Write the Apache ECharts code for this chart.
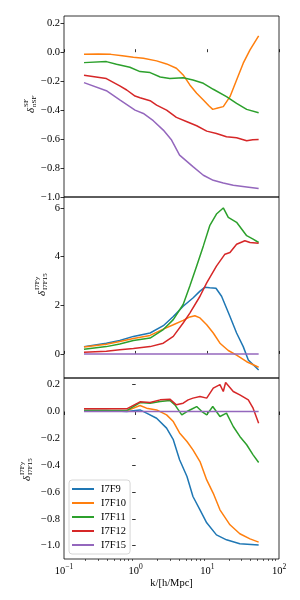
<!DOCTYPE html>
<html><head><meta charset="utf-8">
<script src="https://cdn.jsdelivr.net/npm/echarts@6/dist/echarts.min.js"></script>
<style>html,body{margin:0;padding:0;background:#fff}#c{width:300px;height:600px}</style>
</head><body><div id="c"></div>
<script>
// ---- data (k in h/Mpc, value) ----
const names = ['I7F9','I7F10','I7F11','I7F12','I7F15'];
const colors = ['#1f77b4','#ff7f0e','#2ca02c','#d62728','#9467bd'];

// panel 1: delta^SF_nSF
const sf_I7F10 = [[0.19,-0.014],[0.3,-0.012],[0.45,-0.015],[0.65,-0.025],[0.93,-0.035],[1.28,-0.042],[1.96,-0.06],[2.7,-0.081],[3.7,-0.111],[4.6,-0.157],[5.7,-0.226],[7.1,-0.284],[8.8,-0.33],[10.5,-0.37],[11.9,-0.395],[14,-0.385],[16.7,-0.376],[20.7,-0.307],[25.6,-0.192],[31.7,-0.076],[39.4,0.016],[52,0.113]];
const sf_I7F11 = [[0.19,-0.072],[0.39,-0.065],[0.54,-0.083],[0.83,-0.104],[1.15,-0.134],[1.59,-0.141],[2.2,-0.171],[3.0,-0.182],[4.6,-0.176],[6.3,-0.192],[8.8,-0.215],[12.1,-0.256],[18.5,-0.307],[25.6,-0.353],[35.4,-0.395],[52,-0.418]];
const sf_I7F12 = [[0.19,-0.159],[0.39,-0.182],[0.6,-0.233],[0.75,-0.261],[0.98,-0.303],[1.15,-0.314],[1.59,-0.335],[1.96,-0.365],[2.7,-0.40],[3.7,-0.45],[5.2,-0.48],[7.1,-0.508],[9.8,-0.545],[13.4,-0.561],[18.5,-0.584],[25.6,-0.591],[35.4,-0.612],[43,-0.605],[52,-0.603]];
const sf_I7F15 = [[0.19,-0.21],[0.39,-0.266],[0.6,-0.33],[0.98,-0.40],[1.28,-0.423],[1.76,-0.473],[2.43,-0.538],[3.17,-0.607],[4.1,-0.711],[6.3,-0.79],[8.8,-0.85],[12.1,-0.885],[16.7,-0.903],[23,-0.919],[35.4,-0.931],[52,-0.942]];

// panel 2: delta^I7Fy_I7F15 (power ratio)
const rel_I7F9  = [[0.19,0.30],[0.39,0.44],[0.6,0.55],[0.93,0.72],[1.59,0.86],[2.43,1.16],[3.35,1.54],[4.6,1.96],[6.3,2.30],[7.9,2.58],[9.2,2.74],[10.8,2.72],[13.2,2.70],[15.8,2.37],[20.7,1.54],[25.6,0.86],[31.7,0.30],[37.3,-0.25],[52,-0.66]];
const rel_I7F10 = [[0.19,0.28],[0.39,0.40],[0.6,0.51],[0.93,0.63],[1.59,0.76],[2.43,1.02],[3.35,1.20],[4.6,1.38],[5.7,1.52],[6.7,1.57],[7.9,1.48],[9.8,1.20],[12.1,0.86],[15,0.44],[19.6,0.14],[25.6,-0.05],[35.4,-0.32],[52,-0.55]];
const rel_I7F11 = [[0.19,0.19],[0.39,0.30],[0.6,0.41],[0.93,0.55],[1.59,0.65],[2.43,1.0],[3.35,1.41],[4.6,2.03],[5.7,2.79],[7.1,3.61],[8.8,4.44],[10.8,5.27],[13.4,5.75],[16.7,6.0],[19.6,5.61],[25.6,5.41],[35.4,4.86],[43.5,4.72],[52,4.58]];
const rel_I7F12 = [[0.19,0.07],[0.39,0.11],[0.6,0.17],[0.93,0.22],[1.59,0.30],[2.43,0.44],[3.35,0.72],[4.6,1.27],[5.7,1.68],[7.9,2.37],[9.8,2.92],[13.4,3.61],[17.6,4.10],[20.7,4.17],[25.6,4.51],[33.4,4.65],[39.4,4.58],[52,4.55]];
const rel_I7F15 = [[0.19,0],[52,0]];

// panel 3: delta^I7Fy_I7F15
const dif_I7F9  = [[0.19,0.007],[0.39,0.007],[0.75,0.0],[1.15,0.012],[1.42,-0.012],[1.96,-0.05],[2.7,-0.124],[3.35,-0.21],[4.1,-0.36],[5.2,-0.485],[6.3,-0.634],[7.9,-0.733],[9.8,-0.83],[13.4,-0.92],[18.5,-0.957],[28.4,-0.986],[52,-0.996]];
const dif_I7F10 = [[0.19,0.007],[0.75,0.005],[1.15,0.045],[1.42,0.025],[1.96,0.012],[2.7,-0.025],[3.35,-0.075],[4.1,-0.16],[5.2,-0.224],[6.3,-0.286],[7.9,-0.373],[9.8,-0.51],[12.1,-0.61],[15,-0.733],[20.7,-0.845],[28.4,-0.912],[39.4,-0.95],[52,-0.974]];
const dif_I7F11 = [[0.19,0.007],[0.75,0.007],[1.15,0.067],[1.59,0.062],[2.2,0.075],[3.0,0.082],[3.53,0.05],[4.4,-0.025],[5.2,0.0],[6.0,0.017],[7.1,0.037],[8.4,0.0],[9.8,-0.025],[11.9,0.037],[15,-0.037],[18.5,-0.012],[23,-0.112],[28.4,-0.186],[35.4,-0.248],[43.5,-0.323],[52,-0.38]];
const dif_I7F12 = [[0.19,0.02],[0.75,0.02],[1.15,0.072],[1.59,0.067],[2.2,0.087],[3.0,0.092],[3.7,0.05],[4.6,0.062],[5.4,0.087],[6.3,0.1],[7.9,0.112],[9.8,0.1],[12.1,0.174],[15,0.2],[16.7,0.149],[18,0.216],[23,0.149],[28.4,0.124],[37.3,0.087],[43.5,0.025],[52,-0.087]];
const dif_I7F15 = [[0.19,0],[52,0]];

const yTicks1 = [-1.0,-0.8,-0.6,-0.4,-0.2,0.0,0.2];
const yTicks2 = [0,2,4,6];
const yTicks3 = [-1.0,-0.8,-0.6,-0.4,-0.2,0.0,0.2];

// ---- chart ----
const FONT = 'Liberation Serif';
const MINUS = '\u2212';
const fmt1 = v => { if (Math.abs(v) < 1e-9) v = 0; const s = v.toFixed(1); return s.replace('-', MINUS); };
const fmt0 = v => String(Math.round(v)).replace('-', MINUS);

const minorX = [];
[0.1,1,10].forEach(d => { for (let m = 2; m <= 9; m++) minorX.push(Math.log10(m*d)); });

const grids = [0,1,2].map(i => ({left:64, right:21, top:[16,197,378][i], height:181,
  show:true, borderColor:'#000', borderWidth:0.8, backgroundColor:'transparent'}));

const xAxes = [0,1,2].map(i => ({
  type:'log', logBase:10, min:0.1, max:100, gridIndex:i,
  axisLine:{show:false}, splitLine:{show:false},
  axisTick:{show:true, inside: i<2, length: i<2 ? 3 : 3.5, lineStyle:{color:'#000', width:0.8}},
  axisLabel: i<2 ? {show:false} : {
    show:true, margin:4, fontFamily:FONT, color:'#000', showMinLabel:true, showMaxLabel:true,
    formatter: v => { const e = Math.round(Math.log10(v)); return '{b|10}{s|' + String(e).replace('-', MINUS) + '}'; },
    rich:{ b:{fontFamily:FONT, fontSize:10.5, color:'#000', lineHeight:14, verticalAlign:'bottom'},
           s:{fontFamily:FONT, fontSize:7.5, color:'#000', lineHeight:14, verticalAlign:'top'} }
  },
  name: i===2 ? 'k/[h/Mpc]' : '', nameLocation:'middle', nameGap:14,
  nameTextStyle:{fontFamily:FONT, fontSize:10.5, color:'#000'}
}));
// minor ticks helper (log10 space) on bottom panel
xAxes.push({type:'value', min:-1, max:2, gridIndex:2, position:'bottom',
  axisLine:{show:false}, splitLine:{show:false}, axisLabel:{show:false},
  axisTick:{show:true, length:2, customValues:minorX, lineStyle:{color:'#000', width:0.6}}});

function yAxis(i, min, max, ticks, f) {
  return {type:'value', gridIndex:i, min:min, max:max,
    axisLine:{show:false}, splitLine:{show:false},
    axisTick:{show:true, length:3.5, customValues:ticks, lineStyle:{color:'#000', width:0.8}},
    axisLabel:{show:true, customValues:ticks, formatter:f, fontFamily:FONT, fontSize:10.5, color:'#000', margin:4,
      showMinLabel:true, showMaxLabel:true, hideOverlap:false}};
}
const yAxes = [yAxis(0,-1.0,0.25,yTicks1,fmt1), yAxis(1,-0.99,6.45,yTicks2,fmt0), yAxis(2,-1.1,0.25,yTicks3,fmt1)];

function line(name, data, panel) {
  const ci = names.indexOf(name);
  return {type:'line', name:name, data:data, xAxisIndex:panel, yAxisIndex:panel,
    symbol:'none', smooth:false, color:colors[ci], lineStyle:{width:1.5, color:colors[ci]}, z: 2+ci, silent:true, animation:false};
}
const series = [
  line('I7F10', sf_I7F10, 0), line('I7F11', sf_I7F11, 0), line('I7F12', sf_I7F12, 0), line('I7F15', sf_I7F15, 0),
  line('I7F9', rel_I7F9, 1), line('I7F10', rel_I7F10, 1), line('I7F11', rel_I7F11, 1), line('I7F12', rel_I7F12, 1), line('I7F15', rel_I7F15, 1),
  line('I7F9', dif_I7F9, 2), line('I7F10', dif_I7F10, 2), line('I7F11', dif_I7F11, 2), line('I7F12', dif_I7F12, 2), line('I7F15', dif_I7F15, 2)
];

function ylab(x, y, sup, sub) {
  return {type:'group', x:x, y:y, rotation:Math.PI/2, silent:true, children:[
    {type:'text', x:0, y:0, style:{text:'\u03b4', font:'italic 11px "'+FONT+'"', fill:'#000', textAlign:'left', textVerticalAlign:'middle'}},
    {type:'text', x:6, y:-4.5, style:{text:sup, font:'7px "'+FONT+'"', fill:'#000', textAlign:'left', textVerticalAlign:'middle'}},
    {type:'text', x:6, y:3.5, style:{text:sub, font:'7px "'+FONT+'"', fill:'#000', textAlign:'left', textVerticalAlign:'middle'}}
  ]};
}

const chart = echarts.init(document.getElementById('c'), null, {renderer:'canvas'});
chart.setOption({
  animation:false,
  backgroundColor:'#fff',
  grid:grids, xAxis:xAxes, yAxis:yAxes, series:series,
  legend:{data:names.map(n => ({name:n, icon:'rect'})), orient:'vertical', left:69, top:480, itemWidth:22, itemHeight:2, itemGap:0,
    padding:[2,4,2,3], borderColor:'#ccc', borderWidth:0.8, borderRadius:3, backgroundColor:'rgba(255,255,255,0.85)',
    textStyle:{fontFamily:FONT, fontSize:10.5, color:'#000', lineHeight:14, padding:[0,0,0,2]}, selectedMode:false},
  graphic:[ylab(31,113,'SF','nSF'), ylab(42,296,'I7Fy','I7F15'), ylab(27,481,'I7Fy','I7F15')]
});
</script></body></html>
